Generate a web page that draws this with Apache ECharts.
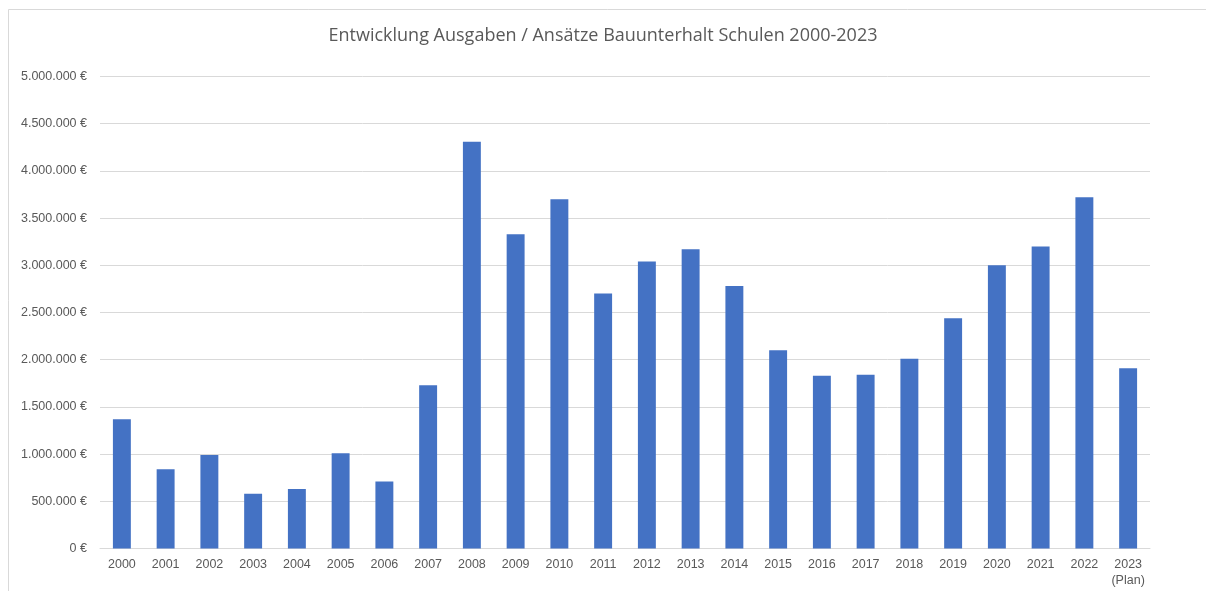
<!DOCTYPE html>
<html>
<head>
<meta charset="utf-8">
<script src="https://cdn.jsdelivr.net/npm/echarts@6/dist/echarts.min.js"></script>
<style>
  html, body { margin: 0; padding: 0; background: #ffffff; }
  #chart { width: 1206px; height: 591px; }
</style>
</head>
<body>
<div id="chart"></div>
<script>
// Jahre (x-Achse)
const years = ['2000', '2001', '2002', '2003', '2004', '2005', '2006', '2007', '2008', '2009',
  '2010', '2011', '2012', '2013', '2014', '2015', '2016', '2017', '2018', '2019',
  '2020', '2021', '2022', '2023\n(Plan)'];

// Ausgaben / Ansätze Bauunterhalt Schulen in Euro
const ausgaben = [1370000, 840000, 990000, 580000, 630000, 1010000, 710000, 1730000, 4310000, 3330000,
  3700000, 2700000, 3040000, 3170000, 2780000, 2100000, 1830000, 1840000, 2010000, 2440000,
  3000000, 3200000, 3720000, 1910000];

// Skala der y-Achse
const yMin = 0;
const yMax = 5000000;
const yStep = 500000;

const fmtEuro = v => (v === 0 ? '0' : v.toLocaleString('de-DE')) + ' €';

const chart = echarts.init(document.getElementById('chart'), null, { renderer: 'canvas' });

chart.setOption({
  backgroundColor: '#ffffff',
  animation: false,
  title: {
    text: 'Entwicklung Ausgaben / Ansätze Bauunterhalt Schulen 2000-2023',
    left: 'center',
    top: 22,
    textStyle: {
      fontFamily: 'Open Sans',
      fontSize: 18,
      fontWeight: 'normal',
      color: '#595959'
    }
  },
  graphic: [{
    type: 'rect',
    shape: { x: 8.5, y: 9.5, width: 1220, height: 620 },
    style: { fill: 'none', stroke: '#d9d9d9', lineWidth: 1 },
    silent: true
  }],
  grid: {
    left: 100,
    right: 56,
    top: 76.5,
    bottom: 42.5
  },
  xAxis: {
    type: 'category',
    data: years,
    axisLine: { show: true, lineStyle: { color: '#d9d9d9', width: 1 } },
    axisTick: { show: false },
    axisLabel: {
      color: '#595959',
      fontFamily: 'Liberation Sans',
      fontSize: 12.5,
      margin: 8,
      lineHeight: 16,
      verticalAlign: 'top'
    }
  },
  yAxis: {
    type: 'value',
    min: yMin,
    max: yMax,
    interval: yStep,
    axisLine: { show: false },
    axisTick: { show: false },
    splitLine: { lineStyle: { color: '#d9d9d9', width: 1 } },
    axisLabel: {
      color: '#595959',
      fontFamily: 'Liberation Sans',
      fontSize: 12.5,
      margin: 13,
      formatter: fmtEuro
    }
  },
  series: [{
    type: 'bar',
    data: ausgaben,
    barWidth: '41%',
    itemStyle: { color: '#4472C4' }
  }]
});
</script>
</body>
</html>
